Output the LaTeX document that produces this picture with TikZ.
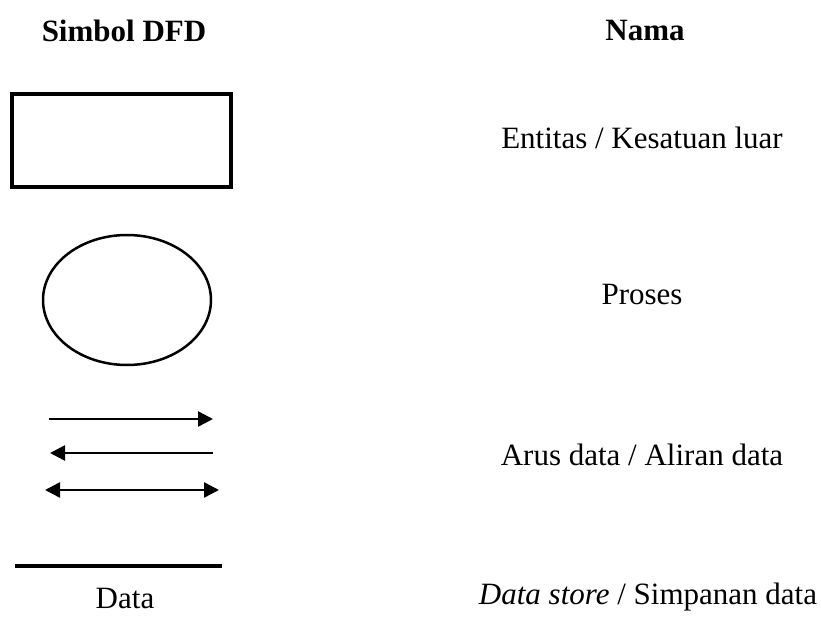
\documentclass[tikz,border=0pt]{standalone}
\usepackage{fontspec}
\setmainfont{Liberation Serif}
\usetikzlibrary{arrows.meta}

\begin{document}
\begin{tikzpicture}[x=1pt,y=-1pt,
        txt/.style={font=\fontsize{31}{36}\selectfont},
        head/.style={font=\fontsize{31}{36}\selectfont\bfseries},
        flow/.style={line width=2.5pt}]
        \useasboundingbox (0,0) rectangle (821,620);

        \node[head] (simbol) at (124,31) {Simbol DFD};
        \node[head] (nama) at (645,31) {Nama};

        \draw[line width=4pt] (12,94) rectangle (231,187);
        \draw[line width=2.5pt] (127,300) ellipse (84 and 65);

        \coordinate (a1) at (49,419);
        \coordinate (b1) at (213,419);
        \coordinate (a2) at (213,453);
        \coordinate (b2) at (50,453);
        \coordinate (a3) at (45,490);
        \coordinate (b3) at (219,490);
        \draw[flow,-{Triangle[length=15pt,width=15pt]}] (a1) -- (b1);
        \draw[flow,-{Triangle[length=15pt,width=15pt]}] (a2) -- (b2);
        \draw[flow,{Triangle[length=15pt,width=15pt]}-{Triangle[length=15pt,width=15pt]}] (a3) -- (b3);

        \coordinate (s1) at (15,566);
        \coordinate (s2) at (222,566);
        \draw[line width=4pt] (s1) -- (s2);
        \node[txt] (data) at (125,598) {Data};

        \node[txt] (entitas) at (642,138) {Entitas / Kesatuan luar};
        \node[txt] (proses) at (642,295) {Proses};
        \node[txt] (arus) at (642,455) {Arus data / Aliran data};
        \node[txt] (store) at (648,597) {\textit{Data store} / Simpanan data};
\end{tikzpicture}
\end{document}
